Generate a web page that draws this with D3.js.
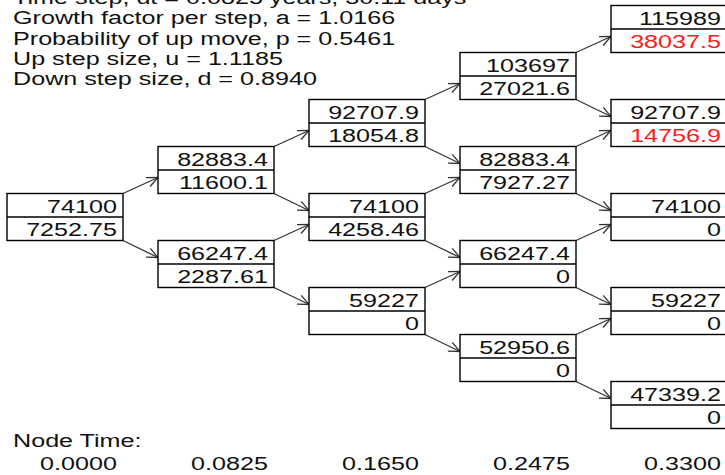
<!DOCTYPE html>
<html>
<head>
<meta charset="utf-8">
<script src="https://cdn.jsdelivr.net/npm/d3@7"></script>
<style>
  html, body { margin: 0; padding: 0; background: #fff; }
  svg { display: block; }
  text { font-family: Arial, "Liberation Sans", sans-serif; }
</style>
</head>
<body>
<svg id="chart" width="725" height="475"></svg>
<script>
// ---- data ----
const headerLines = [
  "Time step, dt = 0.0825 years, 30.11 days",
  "Growth factor per step, a = 1.0166",
  "Probability of up move, p = 0.5461",
  "Up step size, u = 1.1185",
  "Down step size, d = 0.8940"
];
const nodeTimes = ["0.0000", "0.0825", "0.1650", "0.2475", "0.3300"];
const stockPrices = [
  [74100],
  [82883.4, 66247.4],
  [92707.9, 74100, 59227],
  [103697, 82883.4, 66247.4, 52950.6],
  [115989, 92707.9, 74100, 59227, 47339.2]
];
const optionValues = [
  [7252.75],
  [11600.1, 2287.61],
  [18054.8, 4258.46, 0],
  [27021.6, 7927.27, 0, 0],
  [38037.5, 14756.9, 0, 0, 0]
];
const highlighted = [[4, 0], [4, 1]]; // [step, node] shown in red

// ---- layout / style ----
const svg = d3.select("#chart");
const boxW = 116, boxH = 47;
const fs = 19.2, sx = 1.31;       // font size and horizontal stretch of text
const ink = "#111";
const steps = stockPrices.length;
const x = d3.scaleLinear().domain([0, steps - 1]).range([7, 611]);
const y = d3.scaleLinear().domain([-(steps - 1), steps - 1]).range([5.5, 381.5]);
const level = (i, j) => 2 * j - i;
const fmt = v => String(+(+v).toPrecision(6));
const isRed = (i, j) => highlighted.some(h => h[0] === i && h[1] === j);

svg.append("rect").attr("width", 725).attr("height", 475).attr("fill", "#fff");

function label(parent, tx, ty, txt, anchor, color) {
  return parent.append("text")
    .attr("transform", `translate(${tx},${ty}) scale(${sx},1)`)
    .attr("text-anchor", anchor || "start")
    .attr("font-size", fs)
    .attr("fill", color || ink)
    .text(txt);
}

// header text
const hg = svg.append("g");
headerLines.forEach((d, k) => label(hg, 13, 3.8 + k * 20.4, d));

// nodes
const nodes = [];
stockPrices.forEach((col, i) => col.forEach((s, j) => nodes.push({ i, j, s, o: optionValues[i][j] })));

// arrows
const edges = [];
nodes.filter(n => n.i < steps - 1).forEach(n => {
  const x0 = x(n.i) + boxW, x1 = x(n.i + 1);
  const yt = y(level(n.i, n.j));
  edges.push({ x0, y0: yt, x1, y1: yt - 16 });
  edges.push({ x0, y0: yt + boxH, x1, y1: yt + boxH + 17 });
});
const ag = svg.append("g").attr("stroke", "#333").attr("stroke-width", 1.3).attr("fill", "none");
edges.forEach(e => {
  ag.append("line").attr("x1", e.x0).attr("y1", e.y0).attr("x2", e.x1).attr("y2", e.y1);
  const ang = Math.atan2(e.y1 - e.y0, e.x1 - e.x0);
  const L = 12, a = 0.42;
  const p1 = [e.x1 - L * Math.cos(ang - a), e.y1 - L * Math.sin(ang - a)];
  const p2 = [e.x1 - L * Math.cos(ang + a), e.y1 - L * Math.sin(ang + a)];
  ag.append("path").attr("d", `M${p1[0]},${p1[1]}L${e.x1},${e.y1}L${p2[0]},${p2[1]}`);
});

// boxes
const ng = svg.append("g").selectAll("g").data(nodes).join("g")
  .attr("transform", d => `translate(${x(d.i)},${y(level(d.i, d.j))})`);
ng.append("rect").attr("width", boxW).attr("height", boxH)
  .attr("fill", "#fff").attr("stroke", "#000").attr("stroke-width", 1.4);
ng.append("line").attr("x1", 0).attr("x2", boxW).attr("y1", boxH / 2).attr("y2", boxH / 2)
  .attr("stroke", "#000").attr("stroke-width", 1.4);
ng.each(function (d) {
  const g = d3.select(this);
  label(g, boxW - 6, 19.5, fmt(d.s), "end");
  label(g, boxW - 6, 42.5, fmt(d.o), "end", isRed(d.i, d.j) ? "#ff1a1a" : ink);
});

// node time axis
label(svg, 13, 447, "Node Time:");
nodeTimes.forEach((d, i) => label(svg, x(i) + boxW - 6, 470, d, "end"));
</script>
</body>
</html>
